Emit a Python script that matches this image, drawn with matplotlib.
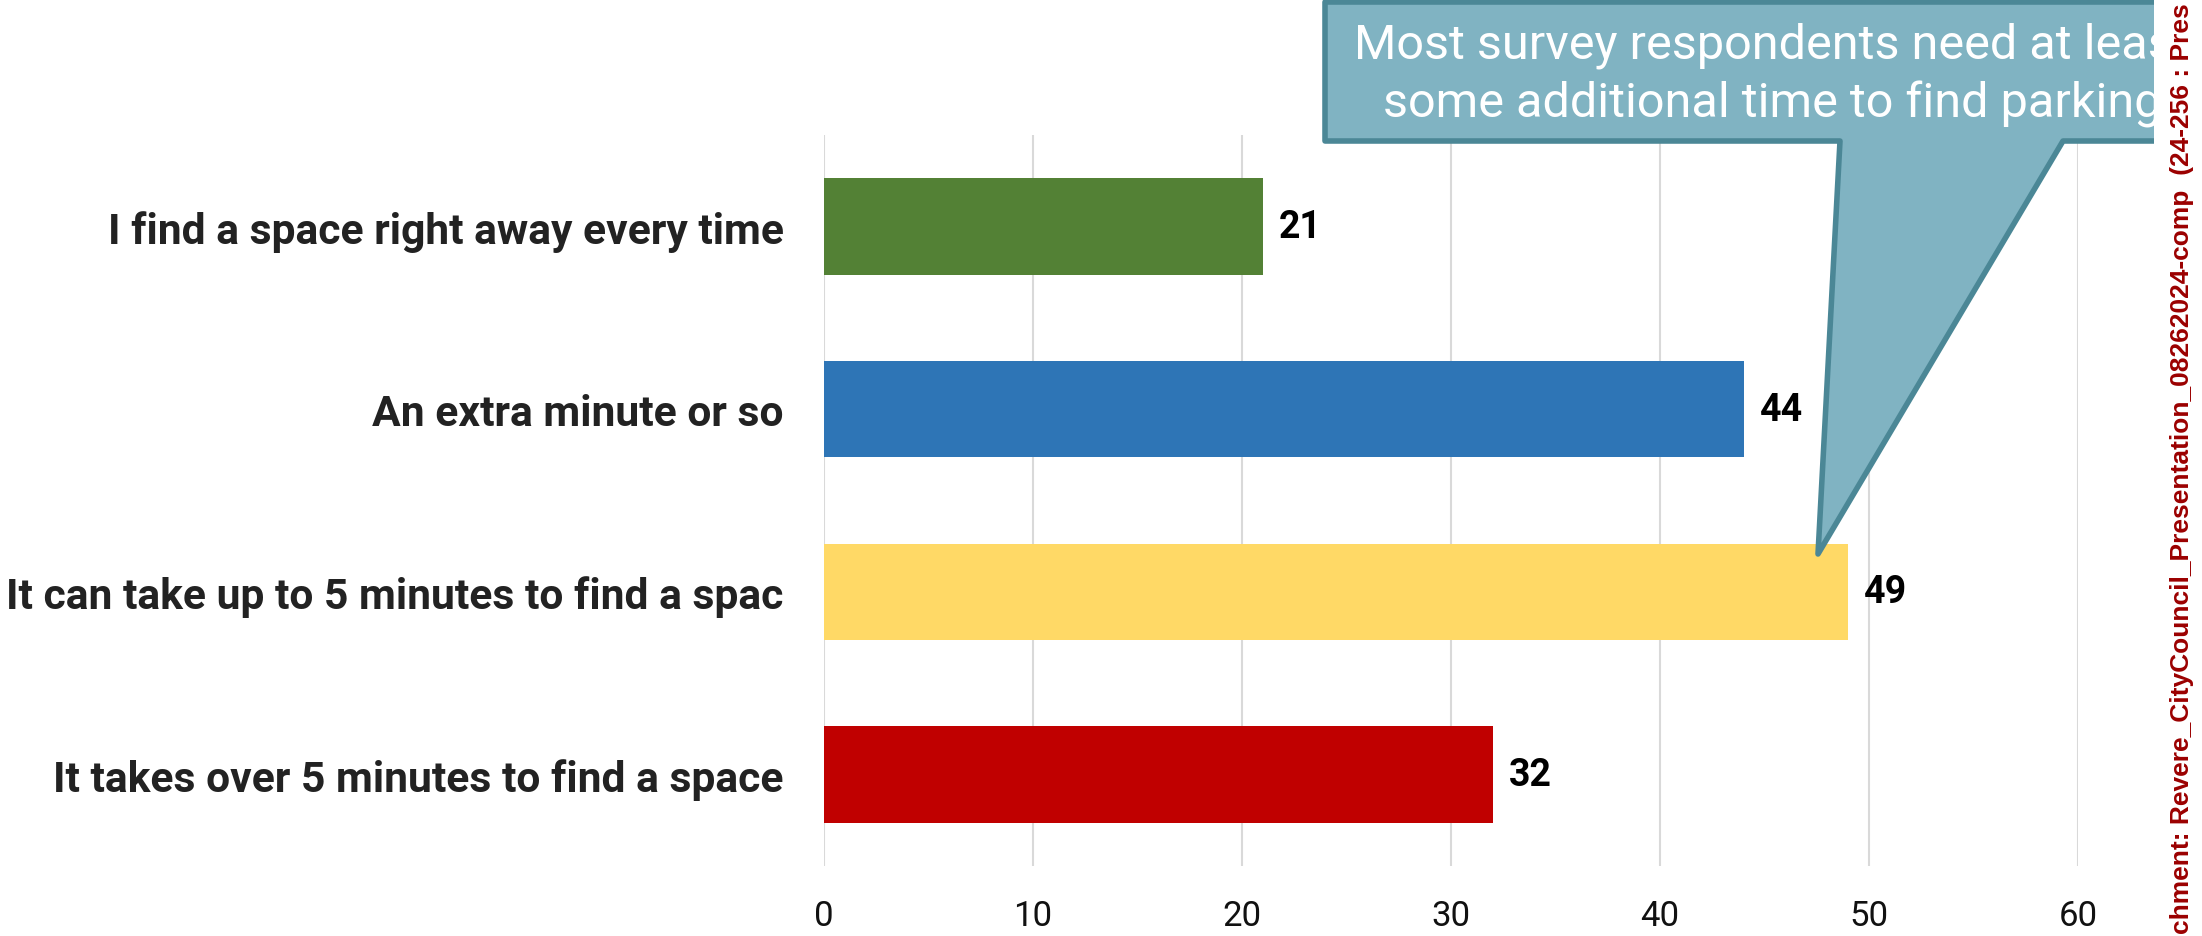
import matplotlib
matplotlib.use("Agg")
import matplotlib.pyplot as plt
from matplotlib import font_manager
from matplotlib.patches import Polygon
from matplotlib.lines import Line2D
from matplotlib.transforms import Affine2D, Bbox, TransformedBbox

# ---------------- data ----------------
categories = [
    "I find a space right away every time",
    "An extra minute or so",
    "It can take up to 5 minutes to find a spac",
    "It takes over 5 minutes to find a space",
]
values = [21, 44, 49, 32]
bar_colors = ["#538135", "#2E75B6", "#FFD966", "#C00000"]
x_ticks = [0, 10, 20, 30, 40, 50, 60]
callout_lines = ["Most survey respondents need at least",
                 "some additional time to find parking"]
side_text = "chment: Revere_CityCouncil_Presentation_08262024-comp  (24-256 : Pres"

W, H = 2202, 937
DPI = 100
fig = plt.figure(figsize=(W / DPI, H / DPI), dpi=DPI)
fig.patch.set_facecolor("white")

def has_font(name):
    try:
        font_manager.findfont(name, fallback_to_default=False)
        return True
    except Exception:
        return False

side_font = "Liberation Sans Narrow" if has_font("Liberation Sans Narrow") else "Liberation Sans"

# axes in pixel positions
ax_left, ax_right, ax_top, ax_bottom = 824, 2078, 136, 867
ax = fig.add_axes([ax_left / W, 1 - ax_bottom / H,
                   (ax_right - ax_left) / W, (ax_bottom - ax_top) / H])

ypos = list(range(len(categories)))
ax.barh(ypos, values, height=0.527, color=bar_colors, zorder=3)
ax.set_xlim(0, 60)
ax.set_ylim(len(categories) - 0.5, -0.5)

for s in ax.spines.values():
    s.set_visible(False)
ax.set_xticks(x_ticks)
ax.set_xticklabels([str(t) for t in x_ticks], fontfamily="Roboto", fontsize=25, color="#111111")
ax.set_yticks(ypos)
ax.set_yticklabels(categories, fontfamily="Roboto", fontweight="bold", fontsize=30.7, color="#222222")
ax.tick_params(axis="both", length=0)
ax.tick_params(axis="y", pad=29)
ax.tick_params(axis="x", pad=24)
ax.grid(axis="x", color="#D9D9D9", linewidth=1.5, zorder=0)
ax.grid(axis="y", visible=False)

for y, v in zip(ypos, values):
    ax.annotate(str(v), xy=(v, y), xytext=(11.5, 0), textcoords="offset points",
                ha="left", va="center", fontfamily="Roboto", fontweight="bold",
                fontsize=27, color="#000000", zorder=4)

# ---------------- callout (figure pixel coords, y down) ----------------
pix = Affine2D().scale(1 / W, -1 / H).translate(0, 1) + fig.transFigure
box_l, box_r, box_t, box_b = 1325, 2154, 3, 142
ptr_l, ptr_r, tip = 1840, 2063, (1818, 555)
fill_pts = [(box_l, box_t), (box_r, box_t), (box_r, box_b), (ptr_r, box_b), tip,
            (ptr_l, box_b), (box_l, box_b)]
fill_color = "#80B3C2"
edge_color = "#4B8796"
poly = Polygon(fill_pts, closed=True, facecolor=fill_color, edgecolor="none",
               transform=pix, zorder=10)
fig.add_artist(poly)
edge_pts = [(box_r, box_t), (box_l, box_t), (box_l, box_b), (ptr_l, box_b), tip,
            (ptr_r, box_b), (box_r, box_b)]
ex, ey = zip(*edge_pts)
edge = Line2D(ex, ey, color=edge_color, linewidth=4, solid_joinstyle="round",
              solid_capstyle="butt", transform=pix, zorder=11)
fig.add_artist(edge)

clip_bb = Bbox.from_extents(box_l / W, 1 - box_b / H, box_r / W, 1.0)
clip_disp = TransformedBbox(clip_bb, fig.transFigure)
line_starts = [(1354, 46), (1383, 104)]
for txt, (lx, ly) in zip(callout_lines, line_starts):
    t = fig.text(lx / W, 1 - ly / H, txt, ha="left", va="center", fontfamily="Roboto",
                 fontsize=35, color="white", zorder=12)
    t.set_clip_box(clip_disp)
    t.set_clip_on(True)

# ---------------- side watermark text ----------------
fig.text(2182 / W, 0.5, side_text, rotation=90, ha="center", va="center",
         fontfamily=side_font, fontweight="bold", fontsize=19, color="#9B0000", zorder=20)

fig.savefig("out.png", dpi=DPI, facecolor="white")
